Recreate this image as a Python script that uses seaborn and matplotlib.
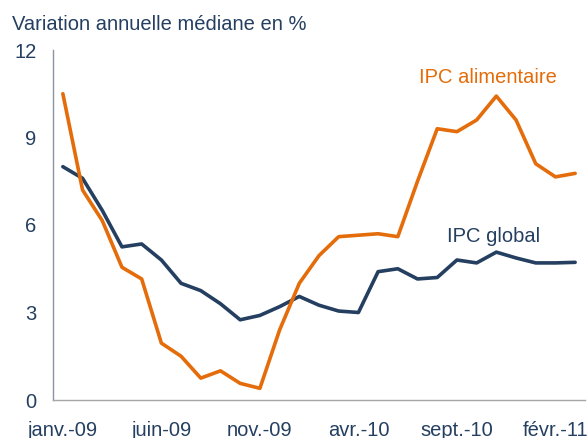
import numpy as np
import pandas as pd
import matplotlib
matplotlib.use("Agg")
import matplotlib.pyplot as plt
import seaborn as sns

# ==========================================
# DATA (median annual change, %)
# ==========================================

mois = ["janv.", "févr.", "mars", "avr.", "mai", "juin",
        "juil.", "août", "sept.", "oct.", "nov.", "déc."]
months = [f"{m}-{y}" for y in ["09", "10"] for m in mois] + ["janv.-11", "févr.-11", "mars-11"]

ipc_global = [8.0, 7.6, 6.5, 5.25, 5.35, 4.8, 4.0, 3.75, 3.3, 2.75, 2.9, 3.2, 3.55,
              3.25, 3.05, 3.0, 4.4, 4.5, 4.15, 4.2, 4.8, 4.7, 5.07, 4.87, 4.7, 4.7, 4.72]
ipc_alim = [10.5, 7.2, 6.15, 4.55, 4.15, 1.95, 1.5, 0.75, 1.0, 0.57, 0.4, 2.4, 4.0,
            4.95, 5.6, 5.65, 5.7, 5.6, 7.5, 9.3, 9.2, 9.6, 10.42, 9.6, 8.1, 7.65, 7.77]

tick_labels = ["janv.-09", "juin-09", "nov.-09", "avr.-10", "sept.-10", "févr.-11"]

df = pd.DataFrame({
    "mois": months * 2,
    "pos": list(range(len(months))) * 2,
    "valeur": ipc_global + ipc_alim,
    "serie": ["IPC global"] * len(months) + ["IPC alimentaire"] * len(months),
})

navy = "#243F60"
orange = "#E46C0A"

# ==========================================
# PLOT
# ==========================================

sns.set_style("white")
plt.rcParams["font.family"] = ["Liberation Sans", "DejaVu Sans"]

fig = plt.figure(figsize=(5.88, 4.38), dpi=100)
ax = fig.add_axes([53 / 588, 1 - 400 / 438, 532 / 588, 350 / 438])

sns.lineplot(data=df, x="pos", y="valeur", hue="serie",
             palette={"IPC global": navy, "IPC alimentaire": orange},
             linewidth=2.6, legend=False, ax=ax,
             solid_joinstyle="round", solid_capstyle="round")

ax.set_xlim(-0.5, 26.5)
ax.set_ylim(0, 12)
ax.set_yticks([0, 3, 6, 9, 12])
ax.set_xticks([months.index(t) for t in tick_labels])
ax.set_xticklabels(tick_labels)
ax.set_xlabel("")
ax.set_ylabel("")
ax.tick_params(axis="both", length=0, labelsize=14.5, labelcolor=navy)
ax.tick_params(axis="y", pad=12)
ax.tick_params(axis="x", pad=15)

for side in ["top", "right"]:
    ax.spines[side].set_visible(False)
ax.spines["left"].set_color("#8C93A0")
ax.spines["bottom"].set_color("#A6A6A6")
ax.spines["left"].set_linewidth(1)
ax.spines["bottom"].set_linewidth(1)

ax.text(18.1, 11.05, "IPC alimentaire", color=orange, fontsize=14.5, va="center", ha="left")
ax.text(19.5, 5.6, "IPC global", color=navy, fontsize=14.5, va="center", ha="left")

fig.text(12 / 588, 1 - 24 / 438, "Variation annuelle médiane en %",
         color=navy, fontsize=14.5, va="center", ha="left")

fig.savefig("out.png", dpi=100)
